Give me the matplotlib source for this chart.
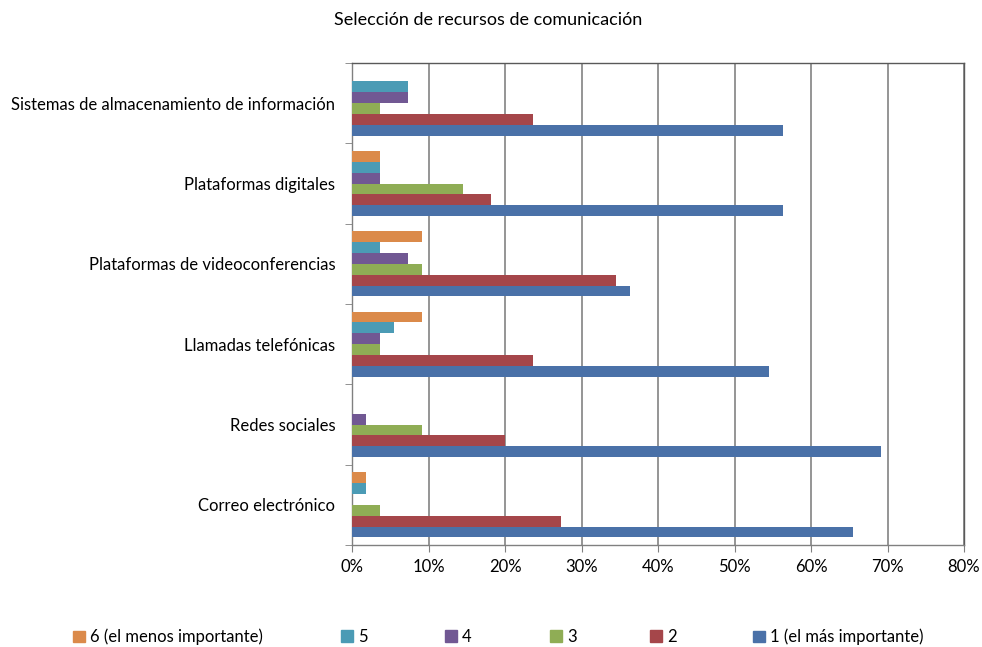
import matplotlib.pyplot as plt
import matplotlib.patches as mpatches
import numpy as np

#===========data===========
categories = ["Correo electrónico", "Redes sociales", "Llamadas telefónicas",
              "Plataformas de videoconferencias", "Plataformas digitales",
              "Sistemas de almacenamiento de información"]

# porcentajes por categoría (de abajo hacia arriba)
s1 = [65.5, 69.1, 54.5, 36.4, 56.4, 56.4]
s2 = [27.3, 20.0, 23.6, 34.5, 18.2, 23.6]
s3 = [3.6, 9.1, 3.6, 9.1, 14.5, 3.6]
s4 = [0.0, 1.8, 3.6, 7.3, 3.6, 7.3]
s5 = [1.8, 0.0, 5.5, 3.6, 3.6, 7.3]
s6 = [1.8, 0.0, 9.1, 9.1, 3.6, 0.0]

series_names = ["1 (el más importante)", "2", "3", "4", "5", "6 (el menos importante)"]
colors = ["#4a71a8", "#a5464a", "#8fad55", "#715893", "#4b9bb5", "#db8a4a"]

#===========plot===========
plt.rcParams['font.family'] = ['Lato', 'DejaVu Sans']

fig = plt.figure(figsize=(9.82, 6.47), dpi=100)
ax = fig.add_axes([352/982, 1-545/647, (964-352)/982, (545-63)/647])

y = np.arange(len(categories))
h = 0.135
all_series = [s1, s2, s3, s4, s5, s6]
for k, vals in enumerate(all_series):
    ax.barh(y + (k - 2.5) * h, vals, height=h, color=colors[k], zorder=3)

ax.set_xlim(0, 80)
ax.set_ylim(-0.5, len(categories) - 0.5)
ax.set_xticks(np.arange(0, 81, 10))
ax.set_xticklabels([f"{v}%" for v in range(0, 81, 10)], fontsize=12)
ax.set_yticks(y)
ax.set_yticklabels(categories, fontsize=12)
ax.tick_params(axis='y', length=0, pad=12)
ax.set_yticks(np.arange(-0.5, len(categories)), minor=True)
ax.tick_params(axis='y', which='minor', length=5, color='#808080')
ax.tick_params(axis='x', length=5, color='#808080', pad=5)
ax.xaxis.grid(True, color='#8c8c8c', linewidth=1.3, zorder=0)
for sp in ax.spines.values():
    sp.set_color('#595959')
    sp.set_linewidth(1.0)
ax.spines['left'].set_color('#808080')
ax.spines['bottom'].set_color('#808080')

fig.text(0.497, 1-20/647, "Selección de recursos de comunicación", ha='center', va='center', fontsize=13)

# leyenda: una entrada por posición
legend_x = [70, 338, 442, 547, 647, 750]
for xpos, k in zip(legend_x, [5, 4, 3, 2, 1, 0]):
    handle = mpatches.Patch(color=colors[k])
    fig.legend([handle], [series_names[k]], loc='center left',
               bbox_to_anchor=(xpos/982 - 0.012, 1-637/647), frameon=False,
               fontsize=12, handlelength=0.7, handleheight=0.7, handletextpad=0.3)

plt.savefig("out.png", dpi=100)
